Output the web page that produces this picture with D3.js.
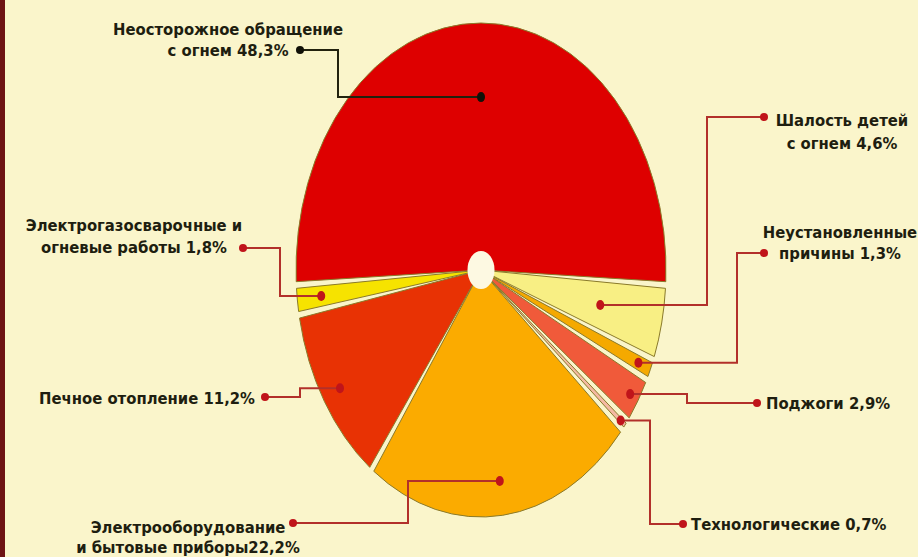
<!DOCTYPE html>
<html>
<head>
<meta charset="utf-8">
<script src="https://cdn.jsdelivr.net/npm/d3@7"></script>
<style>
  html, body { margin: 0; padding: 0; background: #faf5cb; }
  svg { display: block; }
  .lbl { font-family: "Liberation Sans Narrow", "DejaVu Sans Condensed", "Liberation Sans", sans-serif;
         font-weight: bold; font-size: 16.5px; fill: #1e1e10; }
</style>
</head>
<body>
<svg id="chart"></svg>
<script>
// data
const causes = [
  "Неосторожное обращение с огнем",
  "Шалость детей с огнем",
  "Неустановленные причины",
  "Поджоги",
  "Технологические",
  "Электрооборудование и бытовые приборы",
  "Печное отопление",
  "Электрогазосварочные и огневые работы"
];
const shares = [48.3, 4.6, 1.3, 2.9, 0.7, 22.2, 11.2, 1.8];
const labelLines = [
  ["Неосторожное обращение", "с огнем 48,3%"],
  ["Шалость детей", "с огнем 4,6%"],
  ["Неустановленные", "причины 1,3%"],
  ["Поджоги 2,9%"],
  ["Технологические 0,7%"],
  ["Электрооборудование", "и бытовые приборы22,2%"],
  ["Печное отопление 11,2%"],
  ["Электрогазосварочные и", "огневые работы 1,8%"]
];
const colors = ["#de0000", "#f8ef84", "#f5a900", "#f05a3a", "#f4b9a2", "#fbab00", "#e83204", "#f6e300"];

// label layout: text anchor point, leader dot, elbow x, radial position of inner dot
const placement = [
  { tx: 228, ty: 29, gap: 21, anchor: "middle", dx: 300, dy: 50, ex: 338, rf: 0.70, dark: true },
  { tx: 842, ty: 120, gap: 23, anchor: "middle", dx: 764, dy: 117, ex: 707, rf: 0.66 },
  { tx: 840, ty: 232, gap: 21, anchor: "middle", dx: 764, dy: 253, ex: 737, rf: 0.93 },
  { tx: 766, ty: 403, anchor: "start", dx: 757, dy: 403, ex: 687, rf: 0.95 },
  { tx: 691, ty: 524, anchor: "start", dx: 683, dy: 524, ex: 650, rf: 0.97 },
  { tx: 188, ty: 527, gap: 20, anchor: "middle", dx: 293, dy: 523, ex: 408, rf: 0.86 },
  { tx: 255, ty: 398, anchor: "end", dx: 265, dy: 397, ex: 300, rf: 0.90 },
  { tx: 134, ty: 225, gap: 22, anchor: "middle", dx: 243, dy: 248, ex: 280, rf: 0.87 }
];

const width = 918, height = 557;
const cx = 481, cy = 270;
const r = 247, sx = 185 / 247;   // pie is drawn as an ellipse

const svg = d3.select("#chart").attr("width", width).attr("height", height);

svg.append("rect").attr("x", 0).attr("y", 0).attr("width", 5).attr("height", height)
  .attr("fill", "#6e1414");

const data = causes.map((c, i) => ({ cause: c, value: shares[i], i: i }));
const total = d3.sum(shares);
const redSpan = shares[0] / total * 2 * Math.PI;

const pie = d3.pie()
  .sort(null)
  .value(d => d.value)
  .startAngle(-redSpan / 2)
  .endAngle(2 * Math.PI - redSpan / 2);

const arcs = pie(data);

const arc = d3.arc()
  .innerRadius(0)
  .outerRadius(r)
  .padAngle(0.027)
  .padRadius(r);

const g = svg.append("g").attr("transform", `translate(${cx},${cy}) scale(${sx},1)`);

g.selectAll("path.slice")
  .data(arcs)
  .join("path")
  .attr("class", "slice")
  .attr("d", arc)
  .attr("fill", (d, i) => colors[i])
  .attr("stroke", "#8a7a2a")
  .attr("stroke-width", 1)
  .attr("vector-effect", "non-scaling-stroke");

// center hole
svg.append("ellipse")
  .attr("cx", cx).attr("cy", cy)
  .attr("rx", 13.5).attr("ry", 19)
  .attr("fill", "#fdf9e2");

// leaders
function innerPoint(d, f) {
  const a = (d.startAngle + d.endAngle) / 2;
  return [cx + Math.sin(a) * r * f * sx, cy - Math.cos(a) * r * f];
}

const leaders = svg.append("g");
arcs.forEach((d, i) => {
  const p = placement[i];
  const [px, py] = innerPoint(d, p.rf);
  const col = p.dark ? "#22220e" : "#b2302a";
  const dotCol = p.dark ? "#111108" : "#c0141a";
  leaders.append("path")
    .attr("d", `M${p.dx},${p.dy}H${p.ex}V${py}H${px}`)
    .attr("fill", "none")
    .attr("stroke", col)
    .attr("stroke-width", 2);
  leaders.append("circle").attr("cx", p.dx).attr("cy", p.dy).attr("r", 4).attr("fill", dotCol);
  leaders.append("ellipse").attr("cx", px).attr("cy", py).attr("rx", 4).attr("ry", 5).attr("fill", dotCol);

  const t = svg.append("text")
    .attr("class", "lbl")
    .attr("text-anchor", p.anchor)
    .attr("x", p.tx)
    .attr("y", p.ty)
    .attr("dominant-baseline", "central");
  labelLines[i].forEach((line, k) => {
    t.append("tspan").attr("x", p.tx).attr("dy", k === 0 ? 0 : p.gap).text(line);
  });
});
</script>
</body>
</html>
